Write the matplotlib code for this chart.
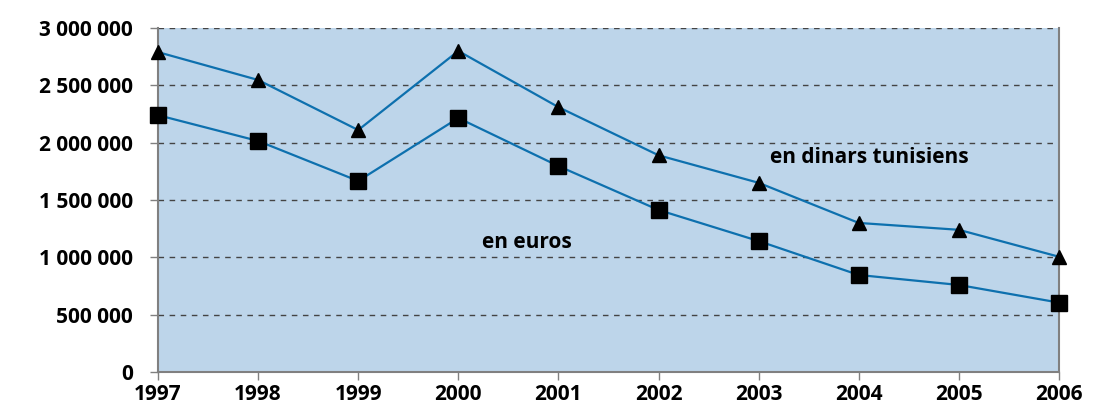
import matplotlib
matplotlib.use("Agg")
import matplotlib.pyplot as plt
from matplotlib.ticker import FuncFormatter

years = [1997, 1998, 1999, 2000, 2001, 2002, 2003, 2004, 2005, 2006]
dinars = [2790000, 2547000, 2110000, 2800000, 2310000, 1890000, 1650000, 1300000, 1240000, 1005000]
euros = [2240000, 2015000, 1666000, 2215000, 1796000, 1413000, 1142000, 846000, 759000, 605000]
yticks = [0, 500000, 1000000, 1500000, 2000000, 2500000, 3000000]

plt.rcParams['font.family'] = ['Open Sans', 'DejaVu Sans']

fig = plt.figure(figsize=(10.94, 4.09), dpi=100)
ax = fig.add_axes([0.1444, 0.0905, 0.8236, 0.841])
ax.set_facecolor('#BDD5EA')

line_col = '#0D70AE'
ax.plot(years, dinars, color=line_col, lw=1.6, marker='^', ms=10,
        mfc='black', mec='black', zorder=3, clip_on=False)
ax.plot(years, euros, color=line_col, lw=1.6, marker='s', ms=11,
        mfc='black', mec='black', zorder=3, clip_on=False)

ax.set_xlim(1997, 2006)
ax.set_ylim(0, 3000000)
ax.set_xticks(years)
ax.set_yticks(yticks)
ax.yaxis.set_major_formatter(FuncFormatter(lambda v, p: f"{int(v):,}".replace(",", " ")))
for y in yticks[1:]:
    ax.axhline(y, color='#444444', lw=1.0, ls=(0, (4, 4)), zorder=1)

for s in ['left', 'right', 'bottom']:
    ax.spines[s].set_color('#808080')
    ax.spines[s].set_linewidth(1.5)
ax.spines['top'].set_visible(False)
ax.tick_params(axis='both', colors='#808080', length=6, width=1,
               labelcolor='black', labelsize=15)
for lab in ax.get_xticklabels() + ax.get_yticklabels():
    lab.set_fontweight('bold')
ax.tick_params(axis='x', pad=3)
ax.tick_params(axis='y', pad=12)

ax.text(2003.11, 1875000, 'en dinars tunisiens', fontsize=15, fontweight='bold', va='center')
ax.text(2000.24, 1125000, 'en euros', fontsize=15, fontweight='bold', va='center')

fig.savefig('out.png', dpi=100)
